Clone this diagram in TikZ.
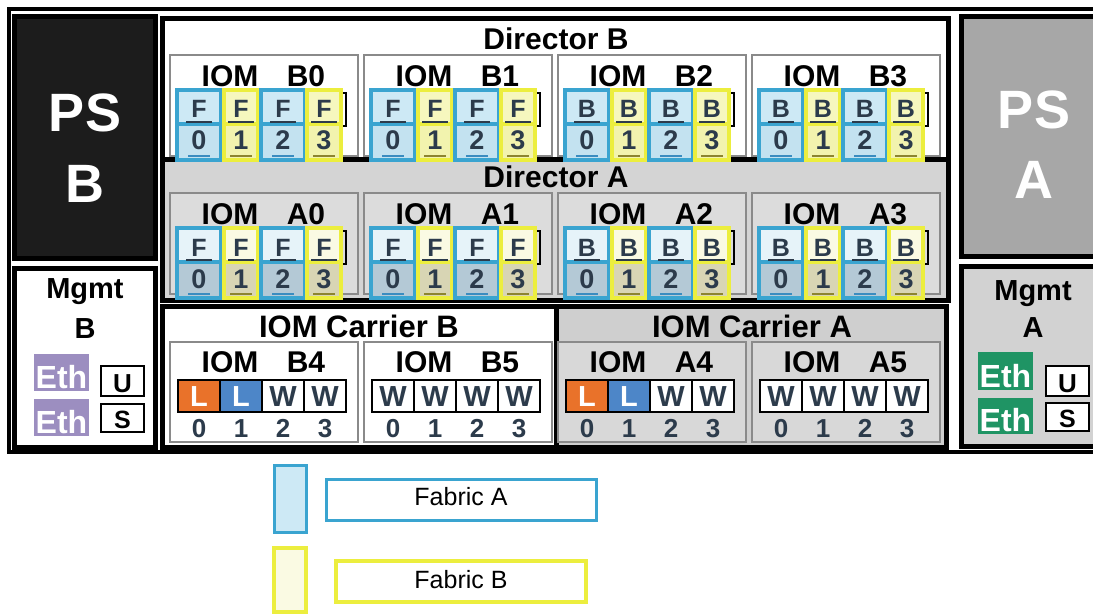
\documentclass[tikz,border=0pt]{standalone}
\usepackage{fontspec}
\setmainfont{Liberation Sans}

\definecolor{lineA}{HTML}{3AA4D0}
\definecolor{lineB}{HTML}{ECEE3E}
\definecolor{topAinB}{HTML}{CDE9F5}
\definecolor{botAinB}{HTML}{C3E2F0}
\definecolor{topBinB}{HTML}{F6F7BE}
\definecolor{botBinB}{HTML}{F2F3AE}
\definecolor{topAinA}{HTML}{E6F3F9}
\definecolor{botAinA}{HTML}{B4C9D6}
\definecolor{topBinA}{HTML}{FAFAE3}
\definecolor{botBinA}{HTML}{D8D5B4}
\definecolor{darkA}{HTML}{3A8CC0}
\definecolor{darkB}{HTML}{8C8430}
\definecolor{ink}{HTML}{2C3B4B}
\definecolor{frameGray}{HTML}{8A8A8A}
\definecolor{dirGray}{HTML}{D4D4D4}
\definecolor{boxGray}{HTML}{DCDCDC}
\definecolor{carrierGray}{HTML}{CFCFCF}
\definecolor{carrierBox}{HTML}{D8D8D8}
\definecolor{psGray}{HTML}{A7A7A7}
\definecolor{psBlack}{HTML}{1C1C1C}
\definecolor{mgmtGray}{HTML}{D2D2D2}
\definecolor{ethB}{HTML}{9C8EC0}
\definecolor{ethA}{HTML}{1F9464}
\definecolor{orangeL}{HTML}{E9722A}
\definecolor{blueL}{HTML}{4D86C8}

\newcommand\fsz[1]{\fontsize{#1}{#1}\selectfont}

\begin{document}
\begin{tikzpicture}[x=1pt, y=-1pt,
  heavy/.style={draw=black, line width=5pt},
  iomframe/.style={draw=frameGray, line width=2pt},
  boldtxt/.style={inner sep=0pt, anchor=base, font=\fsz{#1}\bfseries},
  thintxt/.style={inner sep=0pt, anchor=base, font=\fsz{#1}},
  cell/.style={draw=black, line width=1.8pt},
  keybox/.style={draw=black, line width=2.5pt, fill=white}]
\useasboundingbox (0,0) rectangle (1093,615);
\clip (0,0) rectangle (1093,615);
\fill[white] (0,0) rectangle (1093,615);

% chassis
\draw[line width=4pt] (9,9) rectangle (1120,452);

% power supplies
\draw[heavy, fill=psBlack] (14,17) rectangle (155,258);
\node[boldtxt=54, white] (psB1) at (85,132) {PS};
\node[boldtxt=54, white] (psB2) at (85,203) {B};
\draw[heavy, fill=psGray] (961,17) rectangle (1110,256);
\node[boldtxt=54, white] (psA1) at (1034,129) {PS};
\node[boldtxt=54, white] (psA2) at (1034,199) {A};

% management modules
\draw[heavy, fill=white] (14,268) rectangle (155,447);
\node[boldtxt=29] (mgB1) at (85,298) {Mgmt};
\node[boldtxt=29] (mgB2) at (85,338) {B};
\fill[ethB] (34,354) rectangle (89,391);
\node[boldtxt=32, white] (ethB1) at (61.5,388) {Eth};
\fill[ethB] (34,399) rectangle (89,436);
\node[boldtxt=32, white] (ethB2) at (61.5,433) {Eth};
\draw[keybox] (101,366) rectangle (144,396);
\node[boldtxt=26] (uB) at (122.5,392) {U};
\draw[keybox] (101,404) rectangle (144,432);
\node[boldtxt=25] (sB) at (122.5,428) {S};

\draw[heavy, fill=mgmtGray] (961,266) rectangle (1110,446);
\node[boldtxt=29] (mgA1) at (1033,300) {Mgmt};
\node[boldtxt=29] (mgA2) at (1033,337) {A};
\fill[ethA] (978,352) rectangle (1033,390);
\node[boldtxt=32, white] (ethA1) at (1005.5,387) {Eth};
\fill[ethA] (978,398) rectangle (1033,434);
\node[boldtxt=32, white] (ethA2) at (1005.5,431) {Eth};
\draw[keybox] (1046,366) rectangle (1089,396);
\node[boldtxt=26] (uA) at (1067.5,392) {U};
\draw[keybox] (1046,403) rectangle (1089,431);
\node[boldtxt=25] (sA) at (1067.5,427) {S};

% directors
\draw[heavy, fill=white] (162,19) rectangle (948,160);
\draw[heavy, fill=dirGray] (162,160) rectangle (948,300);
\node[boldtxt=30] (dirB) at (556,50) {Director B};
\node[boldtxt=30] (dirA) at (556,188) {Director A};

% IOM carriers
\draw[heavy, fill=white] (162,306) rectangle (556,447);
\draw[heavy, fill=carrierGray] (556,306) rectangle (946,447);
\node[boldtxt=31] (carB) at (359,337) {IOM Carrier B};
\node[boldtxt=31] (carA) at (752,337) {IOM Carrier A};

% director IOMs
\foreach \dr/\ytop/\bfill in {B/55/white, A/193/boxGray} {
  \foreach \i/\ch in {0/F,1/F,2/B,3/B} {
    \pgfmathsetmacro\bx{170+194*\i}
    \draw[iomframe, fill=\bfill] (\bx,\ytop) rectangle ({\bx+188},{\ytop+101});
    \node[boldtxt=30] (iom\dr\i) at ({\bx+60},{\ytop+32}) {IOM};
    \node[boldtxt=30] (id\dr\i) at ({\bx+136},{\ytop+32}) {\dr\i};
    \draw[line width=2pt] ({\bx+8},{\ytop+38}) rectangle ({\bx+176},{\ytop+71});
    \foreach \pn/\off/\fab/\pw in {0/29/A/44, 1/71/B/34, 2/113/A/44, 3/154/B/34} {
      \draw[line width=3.5pt, draw=line\fab, fill=top\fab in\dr]
        ({\bx+\off-\pw/2},{\ytop+35}) rectangle ({\bx+\off+\pw/2},{\ytop+69});
      \draw[line width=3.5pt, draw=line\fab, fill=bot\fab in\dr]
        ({\bx+\off-\pw/2},{\ytop+69}) rectangle ({\bx+\off+\pw/2},{\ytop+105});
      \draw[line width=2pt, ink] ({\bx+\off-13},{\ytop+67}) -- ({\bx+\off+13},{\ytop+67});
      \draw[line width=2.5pt, dark\fab] ({\bx+\off-11},{\ytop+101}) -- ({\bx+\off+11},{\ytop+101});
      \node[boldtxt=25, ink] (pl\dr\i\pn) at ({\bx+\off},{\ytop+63}) {\ch};
      \node[boldtxt=27, ink] (pn\dr\i\pn) at ({\bx+\off},{\ytop+95}) {\pn};
    }
  }
}

% carrier IOMs
\foreach \i/\nm/\bfill/\cells in {
    0/B4/white/{0/L/orangeL/white, 1/L/blueL/white, 2/W/white/ink, 3/W/white/ink},
    1/B5/white/{0/W/white/ink, 1/W/white/ink, 2/W/white/ink, 3/W/white/ink},
    2/A4/carrierBox/{0/L/orangeL/white, 1/L/blueL/white, 2/W/white/ink, 3/W/white/ink},
    3/A5/carrierBox/{0/W/white/ink, 1/W/white/ink, 2/W/white/ink, 3/W/white/ink}} {
  \pgfmathsetmacro\bx{170+194*\i}
  \draw[iomframe, fill=\bfill] (\bx,342) rectangle ({\bx+188},442);
  \node[boldtxt=30] (iom\nm) at ({\bx+60},372) {IOM};
  \node[boldtxt=30] (id\nm) at ({\bx+136},372) {\nm};
  \foreach \pn/\ch/\cf/\tc in \cells {
    \pgfmathsetmacro\cx{\bx+29+42*\pn}
    \draw[cell, fill=\cf] ({\cx-21},380) rectangle ({\cx+21},412);
    \node[boldtxt=29, text=\tc] (pl\nm\pn) at (\cx,406) {\ch};
    \node[boldtxt=26, ink] (pn\nm\pn) at (\cx,437) {\pn};
  }
}

% legend
\draw[line width=3pt, draw=lineA, fill=topAinB] (274,465) rectangle (306,532);
\draw[line width=3pt, draw=lineA, fill=white] (326,479) rectangle (596,520);
\node[thintxt=25] (fabA) at (461,505) {Fabric A};
\draw[line width=4pt, draw=lineB, fill=topBinA] (274,548) rectangle (306,612);
\draw[line width=4pt, draw=lineB, fill=white] (336,561) rectangle (586,602);
\node[thintxt=25] (fabB) at (461,588) {Fabric B};
\end{tikzpicture}
\end{document}
